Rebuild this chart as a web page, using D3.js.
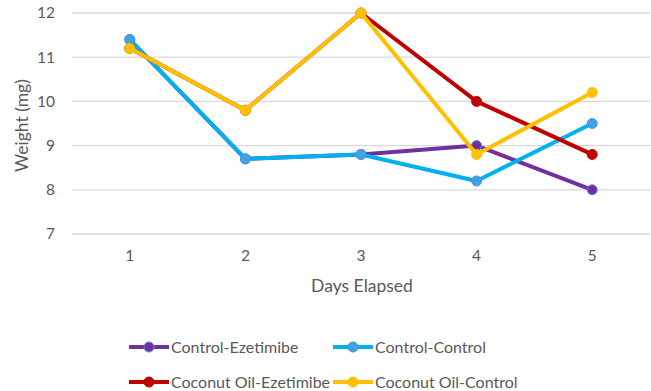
<!DOCTYPE html>
<html>
<head>
<meta charset="utf-8">
<script src="https://cdn.jsdelivr.net/npm/d3@7"></script>
<style>
  html, body { margin: 0; padding: 0; background: #fff; }
  svg { display: block; font-family: Lato, "Open Sans", sans-serif; }
</style>
</head>
<body>
<svg id="chart" width="651" height="391"></svg>
<script>
// Weight over time for four treatment groups
const days = ["1", "2", "3", "4", "5"];
const controlEzetimibe = [11.4, 8.7, 8.8, 9.0, 8.0];
const controlControl = [11.4, 8.7, 8.8, 8.2, 9.5];
const coconutEzetimibe = [11.2, 9.8, 12.0, 10.0, 8.8];
const coconutControl = [11.2, 9.8, 12.0, 8.8, 10.2];
const yTicks = [7, 8, 9, 10, 11, 12];

const series = [
  { name: "Control-Ezetimibe", values: controlEzetimibe, color: "#7030A0", marker: "#7030A0", stroke: "#4F8FD8" },
  { name: "Control-Control", values: controlControl, color: "#00B0F0", marker: "#3FA3E6", stroke: "#4F8FD8" },
  { name: "Coconut Oil-Ezetimibe", values: coconutEzetimibe, color: "#C00000", marker: "#C00000", stroke: "#C00000" },
  { name: "Coconut Oil-Control", values: coconutControl, color: "#FFC000", marker: "#FFC000", stroke: "#FFC000" }
];

const svg = d3.select("#chart");
const plot = { left: 72, right: 650, top: 13, bottom: 234 };
const textColor = "#595959";

const x = d3.scaleBand().domain(days).range([plot.left, plot.right]);
const y = d3.scaleLinear().domain([7, 12]).range([plot.bottom, plot.top]);

// Horizontal gridlines
svg.append("g")
  .selectAll("line")
  .data(yTicks)
  .join("line")
  .attr("x1", plot.left).attr("x2", plot.right)
  .attr("y1", d => y(d)).attr("y2", d => y(d))
  .attr("stroke", "#D9D9D9").attr("stroke-width", 1.3);

// Y axis labels
const yAxis = svg.append("g")
  .attr("transform", `translate(${plot.left - 17},0)`)
  .call(d3.axisLeft(y).tickValues(yTicks).tickFormat(d3.format("d")).tickSize(0).tickPadding(0));
yAxis.select(".domain").remove();
yAxis.selectAll("text").attr("fill", textColor).style("font-size", "15.5px")
  .style("font-family", "Lato, 'Open Sans', sans-serif");

// X axis labels
const xAxis = svg.append("g")
  .attr("transform", `translate(0,${plot.bottom + 16})`)
  .call(d3.axisBottom(x).tickSize(0).tickPadding(0));
xAxis.select(".domain").remove();
xAxis.selectAll("text").attr("fill", textColor).style("font-size", "15.5px")
  .style("font-family", "Lato, 'Open Sans', sans-serif");

// Axis titles
svg.append("text")
  .attr("x", 362).attr("y", 292)
  .attr("text-anchor", "middle").attr("fill", textColor)
  .style("font-size", "17.5px").text("Days Elapsed");

svg.append("text")
  .attr("transform", `translate(28,${(plot.top + plot.bottom) / 2 + 2}) rotate(-90)`)
  .attr("text-anchor", "middle").attr("fill", textColor)
  .style("font-size", "17.5px").text("Weight (mg)");

// Series lines and markers
const line = d3.line()
  .x((d, i) => x(days[i]) + x.bandwidth() / 2)
  .y(d => y(d));

series.forEach(s => {
  const g = svg.append("g");
  g.append("path")
    .datum(s.values)
    .attr("d", line)
    .attr("fill", "none")
    .attr("stroke", s.color)
    .attr("stroke-width", 4)
    .attr("stroke-linejoin", "round");
  g.selectAll("circle")
    .data(s.values)
    .join("circle")
    .attr("cx", (d, i) => x(days[i]) + x.bandwidth() / 2)
    .attr("cy", d => y(d))
    .attr("r", 5)
    .attr("fill", s.marker)
    .attr("stroke", s.stroke)
    .attr("stroke-width", 1);
});

// Legend in two rows
const legendPos = [
  { x: 129, y: 347 }, { x: 333, y: 347 },
  { x: 129, y: 382 }, { x: 333, y: 382 }
];
series.forEach((s, i) => {
  const p = legendPos[i];
  const g = svg.append("g").attr("transform", `translate(${p.x},${p.y})`);
  g.append("line").attr("x1", 0).attr("x2", 40).attr("y1", 0).attr("y2", 0)
    .attr("stroke", s.color).attr("stroke-width", 4);
  g.append("circle").attr("cx", 20).attr("cy", 0).attr("r", 5)
    .attr("fill", s.marker).attr("stroke", s.stroke).attr("stroke-width", 1);
  g.append("text").attr("x", 42).attr("y", 0).attr("dy", "0.35em")
    .attr("fill", textColor).style("font-size", "16px").text(s.name);
});
</script>
</body>
</html>
